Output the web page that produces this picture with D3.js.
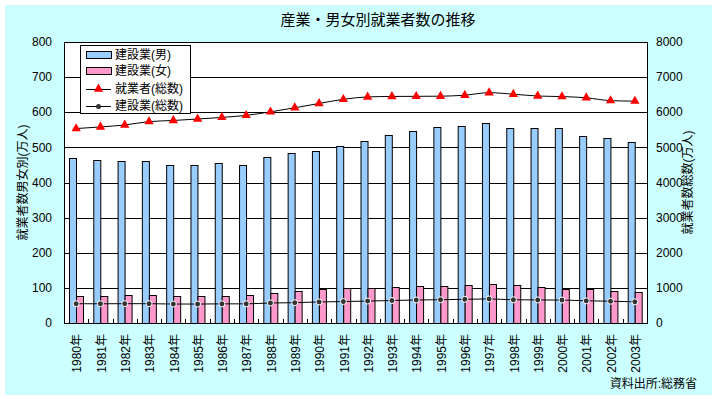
<!DOCTYPE html>
<html>
<head>
<meta charset="utf-8">
<script src="https://cdn.jsdelivr.net/npm/d3@7"></script>
<style>
  body { margin: 0; background: #fff; }
  svg text { font-family: "Liberation Sans", "Noto Sans CJK JP", sans-serif; }
</style>
</head>
<body>
<svg id="chart" width="717" height="399"></svg>
<script>
// data (万人)
var years = ["1980年","1981年","1982年","1983年","1984年","1985年","1986年","1987年","1988年","1989年","1990年","1991年",
             "1992年","1993年","1994年","1995年","1996年","1997年","1998年","1999年","2000年","2001年","2002年","2003年"];
var kensetsuMale   = [471, 465, 460, 460, 449, 451, 456, 451, 474, 485, 491, 503, 517, 536, 548, 557, 562, 570, 554, 554, 554, 533, 526, 514];
var kensetsuFemale = [77, 77, 80, 80, 77, 77, 77, 80, 86, 91, 97, 100, 100, 103, 106, 106, 109, 111, 109, 103, 97, 97, 91, 89];
var shugyoshaTotal = [5536, 5581, 5638, 5733, 5766, 5807, 5853, 5911, 6011, 6128, 6249, 6369, 6436, 6450, 6453, 6457, 6486, 6557, 6514, 6462, 6446, 6412, 6330, 6316];
var kensetsuTotal  = [548, 548, 550, 550, 540, 540, 545, 545, 570, 578, 600, 610, 625, 640, 655, 663, 675, 685, 662, 657, 653, 632, 620, 604];
var leftTicks = [0, 100, 200, 300, 400, 500, 600, 700, 800];
var rightTicks = [0, 1000, 2000, 3000, 4000, 5000, 6000, 7000, 8000];

var svg = d3.select("#chart");
var plot = { left: 64, right: 647, top: 42, bottom: 323 };

svg.append("rect")
  .attr("x", 5).attr("y", 5).attr("width", 707).attr("height", 390)
  .attr("fill", "#ccffff");

var x = d3.scaleBand().domain(years).range([plot.left, plot.right]);
var bw = x.bandwidth();
var xs = d3.scaleBand().domain(["m", "f"]).range([bw / 2 - 7, bw / 2 + 7]);
var yL = d3.scaleLinear().domain([0, 800]).range([plot.bottom, plot.top]);
var yR = d3.scaleLinear().domain([0, 8000]).range([plot.bottom, plot.top]);

svg.append("rect")
  .attr("x", plot.left).attr("y", plot.top)
  .attr("width", plot.right - plot.left).attr("height", plot.bottom - plot.top)
  .attr("fill", "#fff");

// gridlines
svg.append("g").selectAll("line").data(leftTicks).enter().append("line")
  .attr("x1", plot.left).attr("x2", plot.right)
  .attr("y1", function(d) { return Math.round(yL(d)) + 0.5; })
  .attr("y2", function(d) { return Math.round(yL(d)) + 0.5; })
  .attr("stroke", "#000");

// bars
var g = svg.append("g").selectAll("g").data(years).enter().append("g")
  .attr("transform", function(d) { return "translate(" + x(d) + ",0)"; });
g.append("rect")
  .attr("x", function() { return Math.round(xs("m")) + 0.5; })
  .attr("y", function(d, i) { return Math.round(yL(kensetsuMale[i])) + 0.5; })
  .attr("width", Math.round(xs.bandwidth()))
  .attr("height", function(d, i) { return plot.bottom - Math.round(yL(kensetsuMale[i])); })
  .attr("fill", "#99ccff").attr("stroke", "#000");
g.append("rect")
  .attr("x", function() { return Math.round(xs("f")) + 0.5; })
  .attr("y", function(d, i) { return Math.round(yL(kensetsuFemale[i])) + 0.5; })
  .attr("width", Math.round(xs.bandwidth()))
  .attr("height", function(d, i) { return plot.bottom - Math.round(yL(kensetsuFemale[i])); })
  .attr("fill", "#ff99cc").attr("stroke", "#000");

// plot border
svg.append("rect")
  .attr("x", plot.left + 0.5).attr("y", plot.top + 0.5)
  .attr("width", plot.right - plot.left).attr("height", plot.bottom - plot.top)
  .attr("fill", "none").attr("stroke", "#000");

// inside category ticks
svg.append("g").selectAll("line").data(years.slice(1)).enter().append("line")
  .attr("x1", function(d) { return Math.round(x(d)) + 0.5; })
  .attr("x2", function(d) { return Math.round(x(d)) + 0.5; })
  .attr("y1", plot.bottom - 4).attr("y2", plot.bottom)
  .attr("stroke", "#000");

var cx = function(d, i) { return x(years[i]) + bw / 2; };

// 就業者(総数)
var line1 = d3.line().x(cx).y(function(d) { return yR(d); }).curve(d3.curveMonotoneX);
svg.append("path").datum(shugyoshaTotal).attr("d", line1)
  .attr("fill", "none").attr("stroke", "#000").attr("stroke-width", 1);
var tri = d3.symbol().type(d3.symbolTriangle).size(38);
svg.append("g").selectAll("path").data(shugyoshaTotal).enter().append("path")
  .attr("d", tri)
  .attr("transform", function(d, i) { return "translate(" + cx(d, i) + "," + yR(d) + ")"; })
  .attr("fill", "#ff0000");

// 建設業(総数)
var line2 = d3.line().x(cx).y(function(d) { return yR(d); }).curve(d3.curveMonotoneX);
svg.append("path").datum(kensetsuTotal).attr("d", line2)
  .attr("fill", "none").attr("stroke", "#000").attr("stroke-width", 1);
svg.append("g").selectAll("circle").data(kensetsuTotal).enter().append("circle")
  .attr("cx", cx).attr("cy", function(d) { return yR(d); })
  .attr("r", 3).attr("fill", "#333").attr("stroke", "#fff").attr("stroke-width", 1);

// axes labels
svg.append("g").selectAll("text").data(leftTicks).enter().append("text")
  .attr("x", 52).attr("y", function(d) { return yL(d); })
  .attr("dy", "0.35em").attr("text-anchor", "end")
  .attr("font-size", 12).text(function(d) { return d; });
svg.append("g").selectAll("text").data(rightTicks).enter().append("text")
  .attr("x", 656).attr("y", function(d) { return yR(d); })
  .attr("dy", "0.35em").attr("text-anchor", "start")
  .attr("font-size", 12).text(function(d) { return d; });
svg.append("g").selectAll("text").data(years).enter().append("text")
  .attr("transform", function(d) { return "translate(" + (x(d) + bw / 2 + 1) + ",334) rotate(-90)"; })
  .attr("dy", "0.35em").attr("text-anchor", "end")
  .attr("font-size", 12).text(function(d) { return d; });

// titles
svg.append("text").attr("x", 378).attr("y", 20).attr("dy", "0.35em")
  .attr("text-anchor", "middle").attr("font-size", 15).text("産業・男女別就業者数の推移");
svg.append("text")
  .attr("transform", "translate(23," + (plot.top + plot.bottom) / 2 + ") rotate(-90)")
  .attr("dy", "0.35em").attr("text-anchor", "middle").attr("font-size", 12)
  .text("就業者数男女別(万人)");
svg.append("text")
  .attr("transform", "translate(688," + (plot.top + plot.bottom) / 2 + ") rotate(-90)")
  .attr("dy", "0.35em").attr("text-anchor", "middle").attr("font-size", 12)
  .text("就業者数総数(万人)");
svg.append("text").attr("x", 697).attr("y", 384).attr("dy", "0.35em")
  .attr("text-anchor", "end").attr("font-size", 12).text("資料出所:総務省");

// legend
var lg = svg.append("g");
lg.append("rect").attr("x", 80.5).attr("y", 45.5).attr("width", 110).attr("height", 68)
  .attr("fill", "#fff").attr("stroke", "#000");
var legendItems = [
  { label: "建設業(男)", type: "bar", color: "#99ccff" },
  { label: "建設業(女)", type: "bar", color: "#ff99cc" },
  { label: "就業者(総数)", type: "tri" },
  { label: "建設業(総数)", type: "dot" }
];
var rowY = [55, 71, 89, 106];
legendItems.forEach(function(it, i) {
  var yy = rowY[i];
  if (it.type === "bar") {
    lg.append("rect").attr("x", 86.5).attr("y", yy - 3.5).attr("width", 25).attr("height", 7)
      .attr("fill", it.color).attr("stroke", "#000");
  } else {
    lg.append("line").attr("x1", 86).attr("x2", 111).attr("y1", yy + 0.5).attr("y2", yy + 0.5)
      .attr("stroke", "#000");
    if (it.type === "tri") {
      lg.append("path").attr("d", tri).attr("transform", "translate(98.5," + yy + ")").attr("fill", "#ff0000");
    } else {
      lg.append("circle").attr("cx", 98.5).attr("cy", yy + 0.5).attr("r", 2.5).attr("fill", "#333");
    }
  }
  lg.append("text").attr("x", 115).attr("y", yy).attr("dy", "0.35em")
    .attr("font-size", 12).text(it.label);
});
</script>
</body>
</html>
